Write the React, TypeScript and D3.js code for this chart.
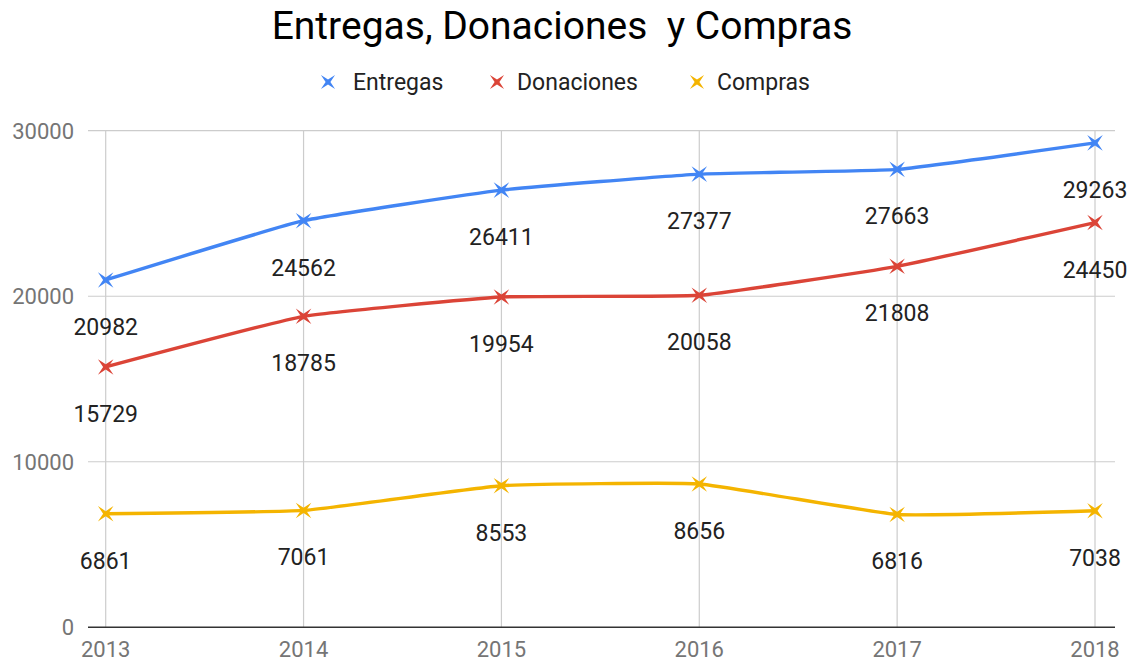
import React from "react";
import * as d3 from "d3";

const years = ["2013", "2014", "2015", "2016", "2017", "2018"];
const entregas = [20982, 24562, 26411, 27377, 27663, 29263];
const donaciones = [15729, 18785, 19954, 20058, 21808, 24450];
const compras = [6861, 7061, 8553, 8656, 6816, 7038];
const yTicks = [0, 10000, 20000, 30000];
const seriesNames = ["Entregas", "Donaciones", "Compras"];
const seriesColors = ["#4285F4", "#DB4437", "#F4B400"];
const title = "Entregas, Donaciones\u00a0 y Compras";

const W = 1131;
const H = 664;
const FONT = "Roboto, 'Noto Sans', sans-serif";

function starPath(cx: number, cy: number, r: number, inner: number) {
  // 4-pointed star rotated 45deg (x shape)
  const pts: [number, number][] = [];
  for (let i = 0; i < 8; i++) {
    const ang = Math.PI / 4 + (i * Math.PI) / 4;
    const rad = i % 2 === 0 ? r : inner;
    pts.push([cx + rad * Math.cos(ang), cy + rad * Math.sin(ang)]);
  }
  return "M" + pts.map((p) => p.join(",")).join("L") + "Z";
}

export default function App() {
  const x = d3.scalePoint<string>().domain(years).range([105.7, 1095]);
  const y = d3.scaleLinear().domain([0, 30000]).range([627.3, 130.7]);
  const gridLeft = 88;
  const gridRight = 1115;
  const allSeries = [entregas, donaciones, compras];
  const line = d3
    .line<number>()
    .x((_, i) => x(years[i]) as number)
    .y((v) => y(v))
    .curve(d3.curveCardinal.tension(0.65));

  const legendItems = [
    { mx: 328, tx: 353 },
    { mx: 497, tx: 517 },
    { mx: 697, tx: 717 },
  ];

  return (
    <svg
      width={W}
      height={H}
      style={{ position: "absolute", left: 0, top: 0, background: "#fff" }}
      fontFamily={FONT}
    >
      <rect x={0} y={0} width={W} height={H} fill="#fff" />
      <text
        x={562}
        y={39}
        textAnchor="middle"
        fontSize={39}
        fill="#000"
        style={{ whiteSpace: "pre" }}
      >
        {title}
      </text>

      {seriesNames.map((name, i) => (
        <g key={name}>
          <path
            d={starPath(legendItems[i].mx, 82, 10, 2.4)}
            fill={seriesColors[i]}
          />
          <text
            x={legendItems[i].tx}
            y={90}
            fontSize={23}
            fill="#222"
          >
            {name}
          </text>
        </g>
      ))}

      {yTicks.map((t) =>
        t === 0 ? null : (
          <line
            key={"g" + t}
            x1={gridLeft}
            x2={gridRight}
            y1={y(t)}
            y2={y(t)}
            stroke="#cccccc"
            strokeWidth={1.2}
          />
        )
      )}
      {years.map((yr) => (
        <line
          key={"v" + yr}
          x1={x(yr)}
          x2={x(yr)}
          y1={y(30000)}
          y2={y(0)}
          stroke="#cccccc"
          strokeWidth={1.2}
        />
      ))}
      <line
        x1={gridLeft}
        x2={gridRight}
        y1={y(0)}
        y2={y(0)}
        stroke="#333"
        strokeWidth={1.6}
      />

      {yTicks.map((t) => (
        <text
          key={"yl" + t}
          x={74}
          y={y(t) + 8}
          textAnchor="end"
          fontSize={22}
          fill="#757575"
        >
          {t}
        </text>
      ))}
      {years.map((yr) => (
        <text
          key={"xl" + yr}
          x={x(yr)}
          y={657}
          textAnchor="middle"
          fontSize={22}
          fill="#757575"
        >
          {yr}
        </text>
      ))}

      {allSeries.map((s, si) => (
        <g key={"s" + si}>
          <path
            d={line(s) || ""}
            fill="none"
            stroke={seriesColors[si]}
            strokeWidth={3.4}
            strokeLinejoin="round"
          />
          {s.map((v, i) => (
            <path
              key={"m" + i}
              d={starPath(x(years[i]) as number, y(v), 11, 2.6)}
              fill={seriesColors[si]}
            />
          ))}
          {s.map((v, i) => (
            <text
              key={"l" + i}
              x={x(years[i])}
              y={y(v) + 55}
              textAnchor="middle"
              fontSize={23}
              fill="#222"
            >
              {v}
            </text>
          ))}
        </g>
      ))}
    </svg>
  );
}
